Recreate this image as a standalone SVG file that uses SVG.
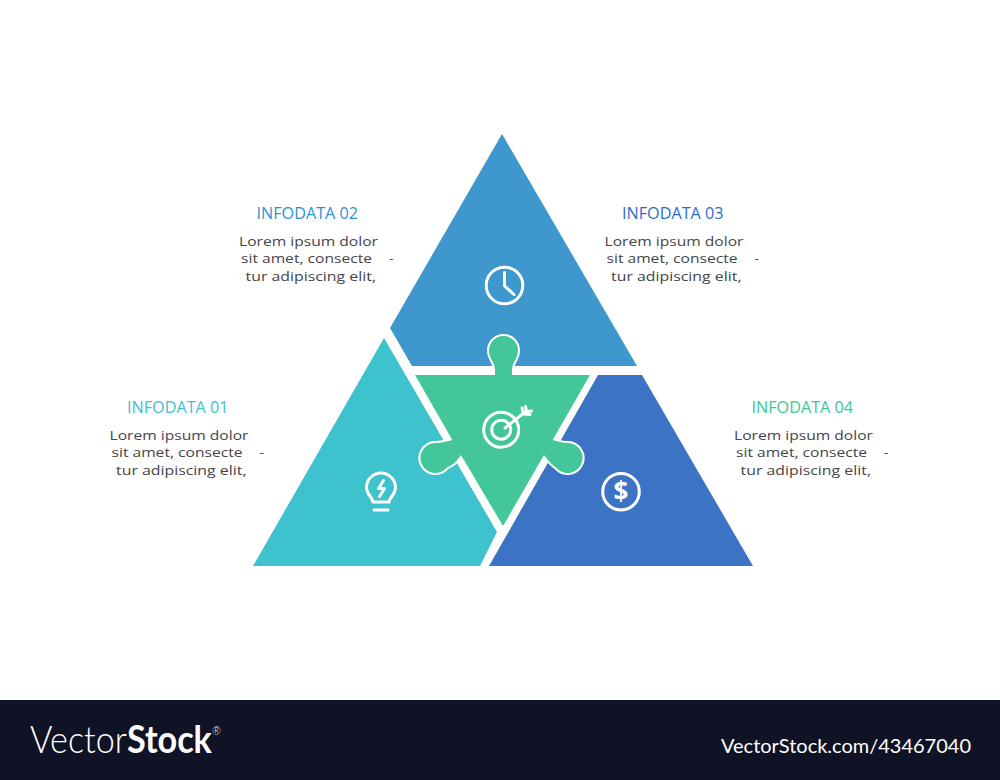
<svg xmlns="http://www.w3.org/2000/svg" width="1000" height="780" viewBox="0 0 1000 780">
<style>
.t{font-family:"Open Sans","Liberation Sans",sans-serif;font-size:17px}
.b{font-family:"Open Sans","Liberation Sans",sans-serif;font-size:13.5px;fill:#444449}
.i{fill:none;stroke:#fff;stroke-width:3;stroke-linecap:round;stroke-linejoin:round}
.f{font-family:Lato,"Liberation Sans",sans-serif;fill:#fff}
</style>
<defs>
<g id="body">
<text class="b" x="239" y="245.700" textLength="139" lengthAdjust="spacingAndGlyphs">Lorem ipsum dolor</text>
<text class="b" x="241" y="263.200" textLength="131" lengthAdjust="spacingAndGlyphs">sit amet, consecte</text>
<text class="b" x="389" y="263.200">-</text>
<text class="b" x="245.500" y="280.700" textLength="130.500" lengthAdjust="spacingAndGlyphs">tur adipiscing elit,</text>
</g>
</defs>
<rect width="1000" height="780" fill="#fff"/>
<g id="node-01">
<polygon points="384,338 497,532 480,566 253,566" fill="#3DC2CE"/>
<path class="i" d="M373,502 C372.500,497 366.500,495 366.500,487.500 A14,14 0 1 1 395.500,487.500 C395.500,495 389.500,497 389,502 Z"/>
<path class="i" d="M374,510 H388"/>
<path class="i" d="M383.500,480.500 L378.500,488.500 H384.500 L379.500,496.500"/>
</g>
<g id="node-02">
<polygon points="502,134 637,366 412,366 390,328" fill="#3E97CD"/>
<circle class="i" cx="504.500" cy="285.500" r="18.300"/>
<path class="i" d="M504.500,272.500 V286 L514,294.500"/>
</g>
<g id="node-03">
<polygon points="598,375 642,375 753,566 489,566" fill="#3C73C4"/>
<circle class="i" cx="621" cy="491.700" r="18.300"/>
<text x="621" y="501" text-anchor="middle" font-family="'Open Sans','Liberation Sans',sans-serif" font-weight="700" font-size="26" fill="#fff">$</text>
</g>
<g id="node-center">
<path fill="#43C79A" stroke="#fff" stroke-width="4" paint-order="stroke" stroke-linejoin="round" d="M415,375 H495 V370 C495,362 489,359 489,350.500 A14.500,14.500 0 1 1 518,350.500 C518,359 512,362 512,370 V375 H590 L552.600,440 C560,442 562,443 568,443 A15,15 0 1 1 556,467.500 C552,465 550,463 544,455 L503,526 L461,455 C455,463 453,465 447,467.500 A15,15 0 1 1 435,443 C441,443 445,442 452.400,440 Z"/>
<circle class="i" cx="501.200" cy="429.700" r="17.500"/>
<circle class="i" cx="501.200" cy="429.700" r="9.500"/>
<path class="i" d="M505,428 L525,412 M522,408 L523.500,414 L530,414.500 M525.500,406.500 L526.500,411.500 L531.500,411"/>
</g>
<g id="label-01" transform="translate(-129.500,194)">
<text class="t" x="256.500" y="219" fill="#3DC2CE" textLength="101.500" lengthAdjust="spacingAndGlyphs">INFODATA 01</text>
<use href="#body"/>
</g>
<g id="label-02">
<text class="t" x="256.500" y="219" fill="#2F92D2" textLength="101.500" lengthAdjust="spacingAndGlyphs">INFODATA 02</text>
<use href="#body"/>
</g>
<g id="label-03" transform="translate(365.500,0)">
<text class="t" x="256.500" y="219" fill="#2F6CC9" textLength="101.500" lengthAdjust="spacingAndGlyphs">INFODATA 03</text>
<use href="#body"/>
</g>
<g id="label-04" transform="translate(495,194)">
<text class="t" x="256.500" y="219" fill="#3CC795" textLength="101.500" lengthAdjust="spacingAndGlyphs">INFODATA 04</text>
<use href="#body"/>
</g>
<g id="footer">
<rect y="700" width="1000" height="80" fill="#101325"/>
<text class="f" x="30" y="753" font-size="38" font-weight="300" textLength="191" lengthAdjust="spacingAndGlyphs">Vector<tspan font-weight="700">Stock</tspan><tspan font-size="12" dy="-18">®</tspan></text>
<text class="f" x="721" y="752.500" font-size="19.500" font-weight="400" textLength="250" lengthAdjust="spacingAndGlyphs">VectorStock.com/43467040</text>
</g>
</svg>
